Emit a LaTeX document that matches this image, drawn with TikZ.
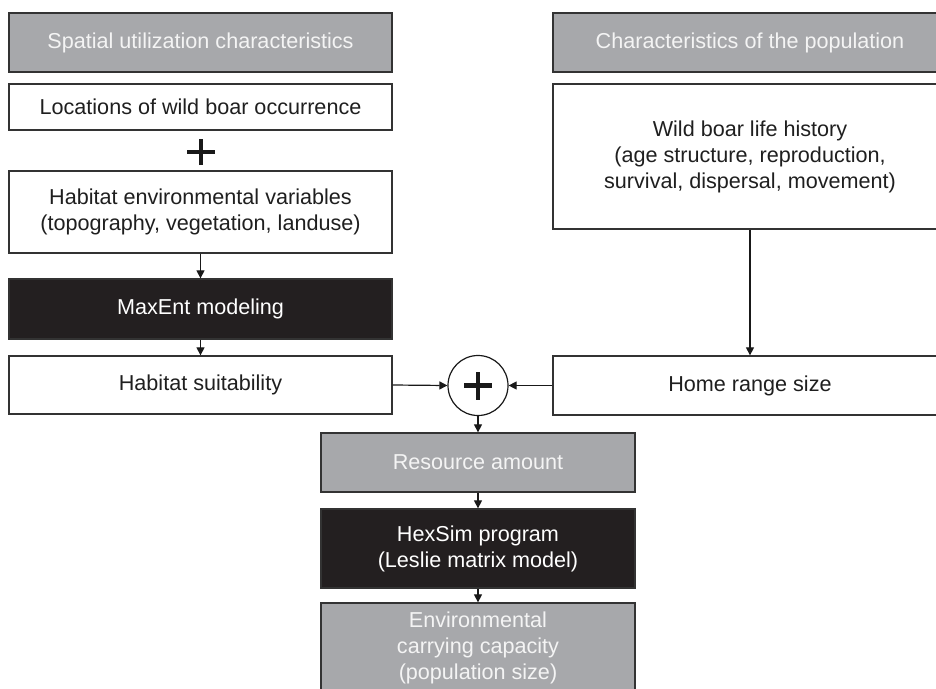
\documentclass[tikz,border=0pt]{standalone}
\usepackage{fontspec}
\setmainfont{Liberation Sans}
\usetikzlibrary{arrows.meta}
\definecolor{boxgray}{HTML}{A7A8AB}
\definecolor{boxblack}{HTML}{231F20}
\definecolor{edge}{HTML}{333333}
\definecolor{lighttext}{HTML}{F4F4F4}
\begin{document}
\begin{tikzpicture}[x=1pt,y=-1pt,
  base/.style={draw=edge, line width=1.3pt, inner sep=0pt, align=center,
    font=\fontsize{21.6}{26}\selectfont},
  whitebox/.style={base, fill=white, text=black!88},
  graybox/.style={base, fill=boxgray, text=lighttext},
  blackbox/.style={base, fill=boxblack, text=white},
  conn/.style={draw=black!90, line width=1.2pt, -{Triangle[length=8pt,width=8pt]}},
  plusbar/.style={line width=4.8pt, draw=black!90}
]
\useasboundingbox (0,0) rectangle (936,688);
\clip (0,0) rectangle (936,688);
% left column
\node[graybox, minimum width=383pt, minimum height=59pt] (h1) at (200.5,42.5) {Spatial utilization characteristics};
\node[whitebox, minimum width=383pt, minimum height=46pt] (l1) at (200.5,107) {Locations of wild boar occurrence};
\coordinate (p1) at (201,152);
\draw[plusbar] ([xshift=-14pt]p1) -- ([xshift=14pt]p1);
\draw[plusbar] ([yshift=-13pt]p1) -- ([yshift=13pt]p1);
\node[whitebox, minimum width=383pt, minimum height=82pt] (e1) at (200.5,212) {Habitat environmental variables\\(topography, vegetation, landuse)};
\node[blackbox, minimum width=383pt, minimum height=60pt] (m) at (200.5,309) {MaxEnt modeling};
\node[whitebox, minimum width=383pt, minimum height=58pt] (hs) at (200.5,385) {Habitat suitability};
% right column
\node[graybox, minimum width=394pt, minimum height=59pt] (h2) at (750,42.5) {Characteristics of the population};
\node[whitebox, minimum width=394pt, minimum height=145pt] (lh) at (750,156.5) {Wild boar life history\\(age structure, reproduction,\\survival, dispersal, movement)};
\node[whitebox, minimum width=394pt, minimum height=59pt] (hr) at (750,385.5) {Home range size};
% combiner
\node[draw=black!90, line width=1.2pt, circle, minimum size=60pt, inner sep=0pt, fill=white] (c) at (478,385.5) {};
\draw[plusbar] ([xshift=-14pt]c.center) -- ([xshift=14pt]c.center);
\draw[plusbar] ([yshift=-14pt]c.center) -- ([yshift=14pt]c.center);
% bottom column
\node[graybox, minimum width=314pt, minimum height=59pt] (ra) at (478,462.5) {Resource amount};
\node[blackbox, minimum width=314pt, minimum height=79pt] (hx) at (478,548.5) {HexSim program\\(Leslie matrix model)};
\node[graybox, minimum width=314pt, minimum height=90pt] (ec) at (478,648) {Environmental\\carrying capacity\\(population size)};
% connectors
\draw[conn] (e1.south) -- (m.north);
\draw[conn] (m.south) -- (hs.north);
\draw[conn] (lh.south) -- (hr.north);
\draw[conn] (hs.east) -- (c.west);
\draw[conn] (hr.west) -- (c.east);
\draw[conn] (c.south) -- (ra.north);
\draw[conn] (ra.south) -- (hx.north);
\draw[conn] (hx.south) -- (ec.north);
\end{tikzpicture}
\end{document}
